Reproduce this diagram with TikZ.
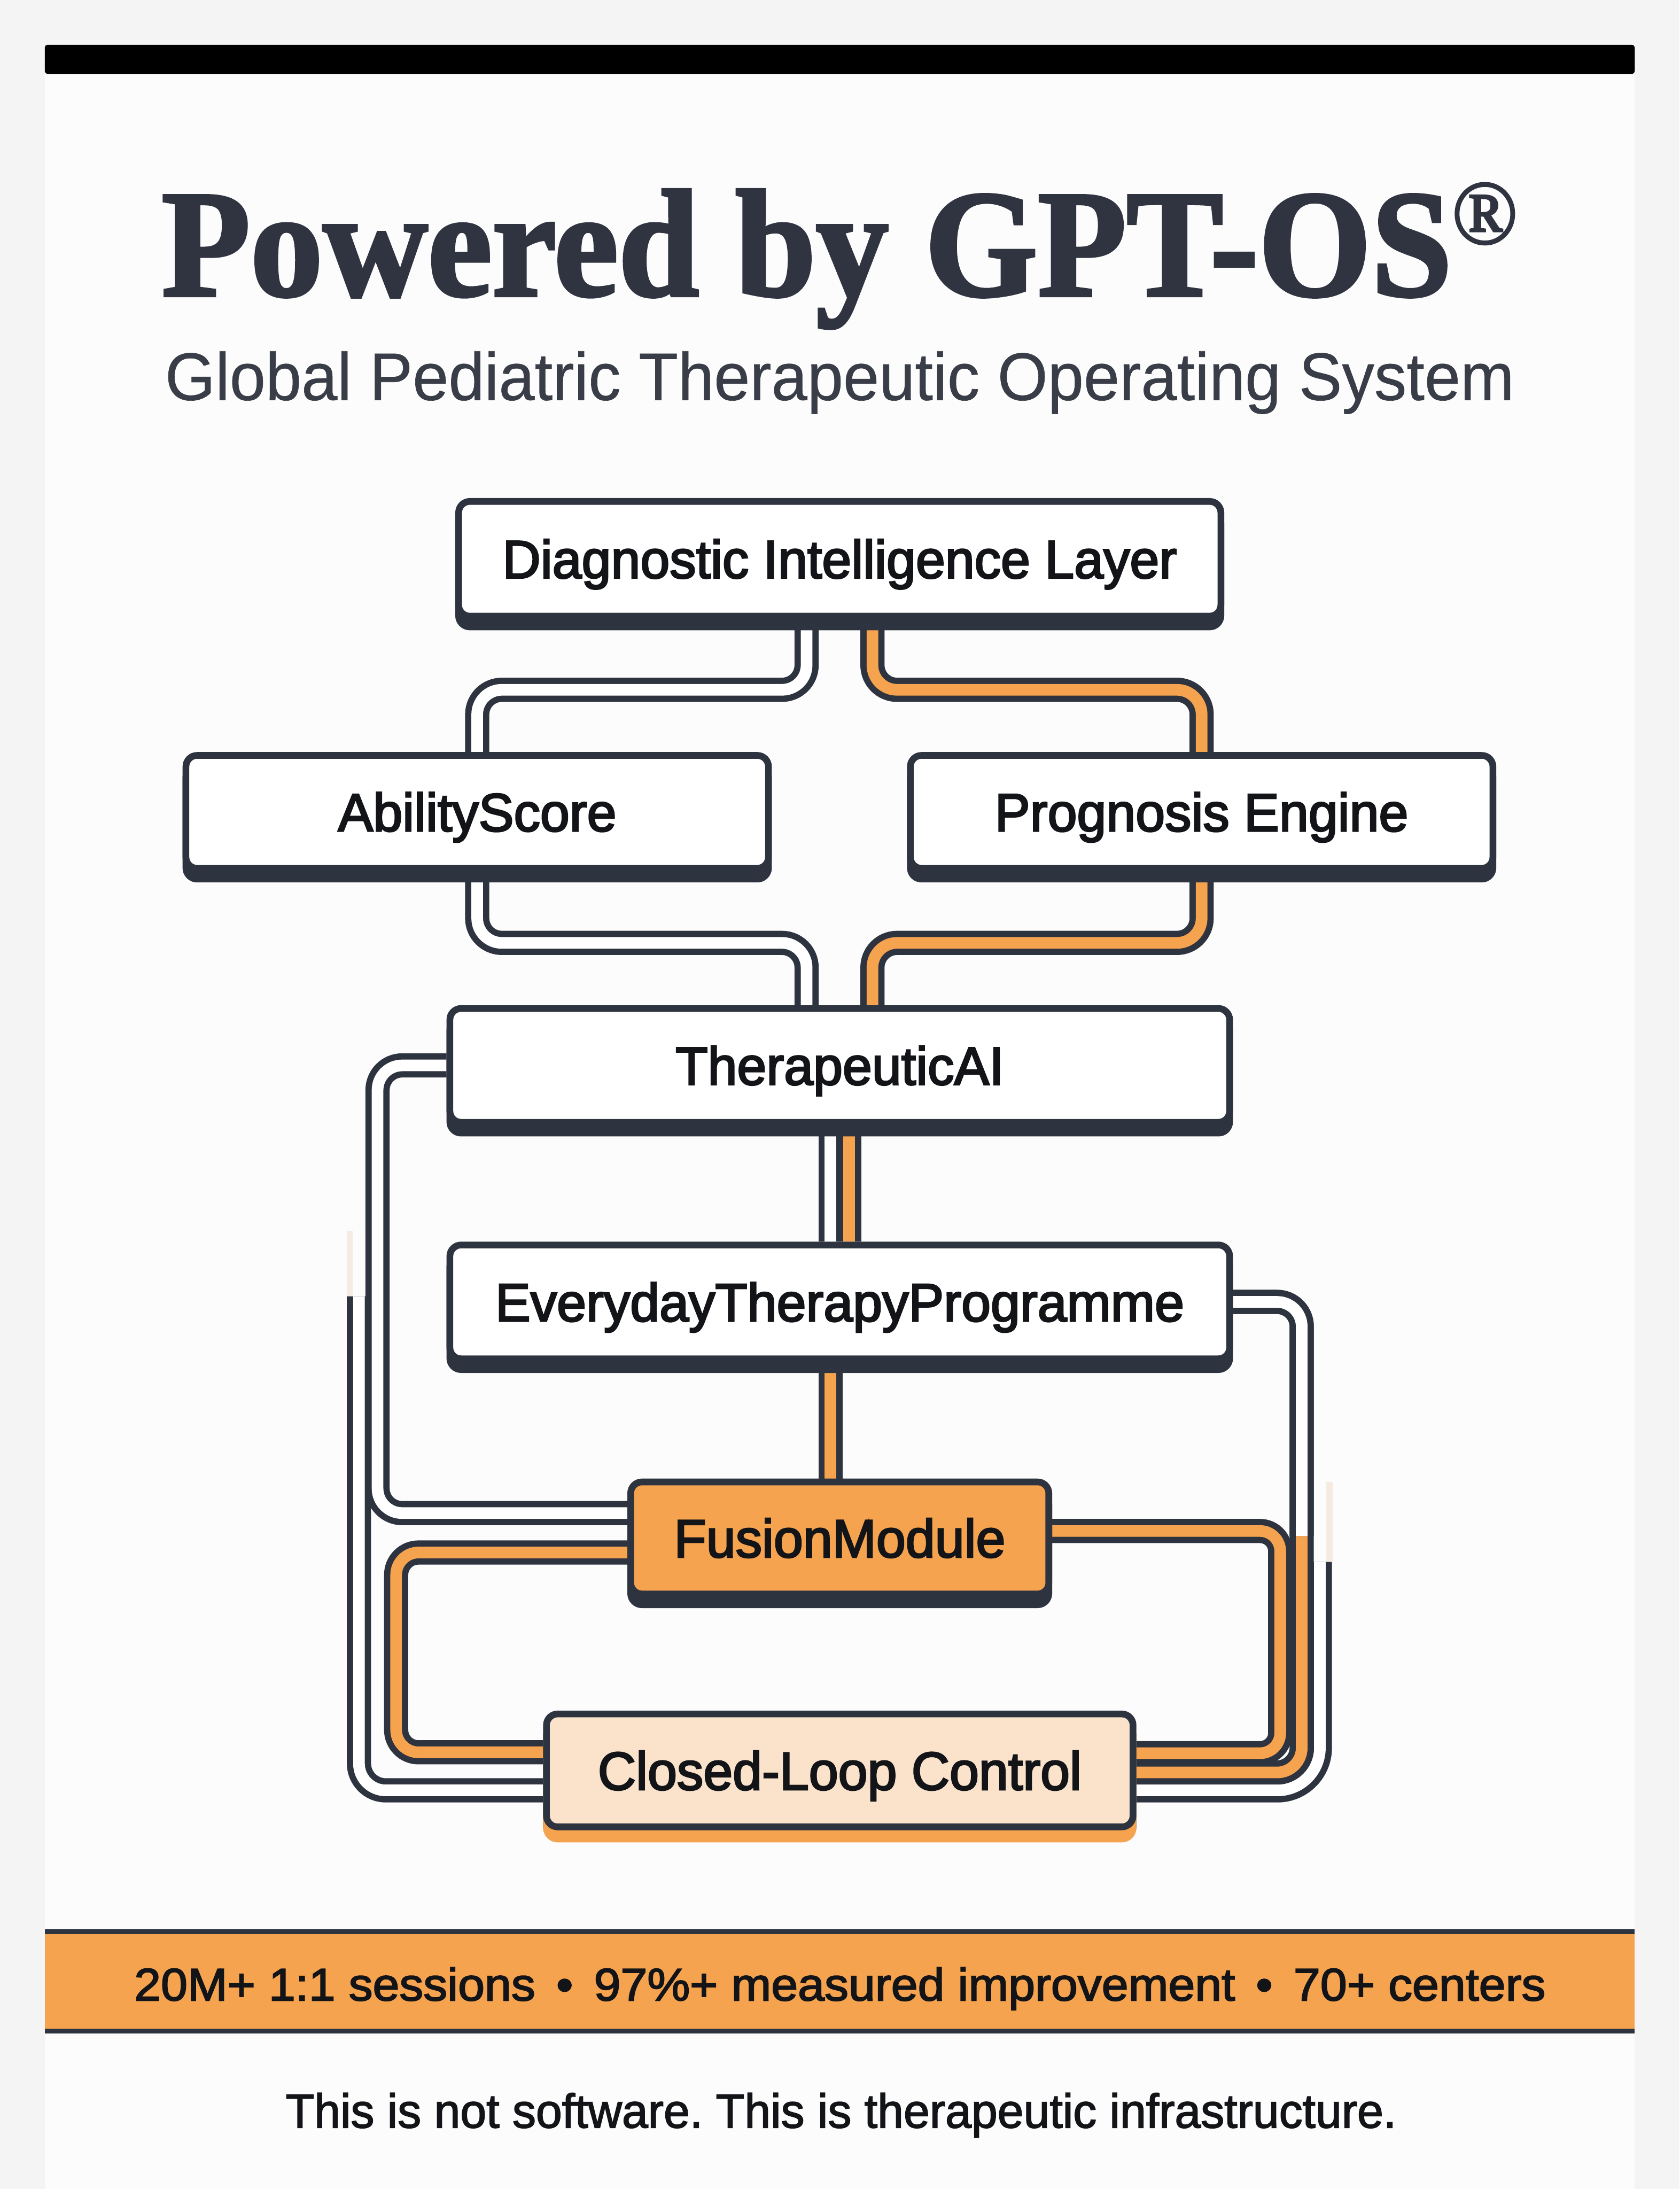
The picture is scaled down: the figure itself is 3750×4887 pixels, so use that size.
\documentclass[tikz,border=0pt]{standalone}
\usepackage{fontspec}
\setmainfont{Liberation Sans}
\newfontfamily\labfont[FakeBold=3,FakeStretch=0.985]{Liberation Sans}
\newfontfamily\titlefont[FakeStretch=0.95,FakeBold=2]{Liberation Serif}
\newfontfamily\subfont[FakeStretch=0.96,FakeBold=0.5]{Liberation Sans}
\newfontfamily\statfont[FakeBold=2.5,FakeStretch=1.05]{Liberation Sans}
\newfontfamily\footfont[FakeBold=2,FakeStretch=0.98]{Liberation Sans}
\usetikzlibrary{calc,shadows}
\definecolor{dark}{HTML}{2E3340}
\definecolor{ink}{HTML}{121418}
\definecolor{orng}{HTML}{F5A34F}
\definecolor{peach}{HTML}{FAE2CB}
\definecolor{pagebg}{HTML}{F4F4F4}
\definecolor{panel}{HTML}{FCFCFC}
\definecolor{titlec}{HTML}{2F3440}
\definecolor{subc}{HTML}{393D47}
\definecolor{stubc}{HTML}{F6EBE3}
\pgfdeclarelayer{back}
\pgfdeclarelayer{bg}
\pgfsetlayers{back,bg,main}
\frenchspacing
\begin{document}
\begin{tikzpicture}[x=0.01cm,y=-0.01cm,
  box/.style={draw=dark, line width=0.15cm, fill=white, rounded corners=0.25cm,
    inner sep=0pt, text height=0.86cm, text depth=0cm, text=ink,
    font=\labfont\fontsize{34pt}{40pt}\selectfont,
    drop shadow={shadow xshift=0cm, shadow yshift=-0.24cm, fill=dark, draw=dark, line width=0.15cm, opacity=1}},
  fusbox/.style={box, fill=orng},
  clbox/.style={box, fill=peach,
    drop shadow={shadow xshift=0cm, shadow yshift=-0.27cm, fill=orng, draw=orng, line width=0.15cm, opacity=1}},
  cable/.style={draw=dark, line width=0.14cm, double=white, double distance=0.26cm, rounded corners=0.55cm},
  ocable/.style={cable, double=orng},
  stubline/.style={draw=stubc, line width=0.14cm}
]
\useasboundingbox (0,0) rectangle (3750,4887);
\begin{pgfonlayer}{back}
  \fill[pagebg] (0,0) rectangle (3750,4887);
  \fill[panel] (100,100) rectangle (3650,4887);
  \fill[black, rounded corners=0.06cm] (100,100) rectangle (3650,165);
  \fill[orng] (100,4312) rectangle (3650,4534);
  \draw[dark, line width=0.11cm] (100,4312) -- (3650,4312);
  \draw[dark, line width=0.11cm] (100,4534) -- (3650,4534);
\end{pgfonlayer}

% titles
\node[anchor=base, inner sep=0pt, text=titlec] (title) at (1875,660)
  {\titlefont\bfseries\fontsize{97pt}{110pt}\selectfont Powered by GPT-OS\raisebox{33pt}{\fontsize{58pt}{64pt}\selectfont\mdseries ®}};
\node[anchor=base, inner sep=0pt, text=subc] (subtitle) at (1875,893)
  {\subfont\fontsize{42.7pt}{50pt}\selectfont Global Pediatric Therapeutic Operating System};

% boxes
\node[box, minimum width=17.01cm, minimum height=2.56cm] (diag) at (1875,1247.5) {Diagnostic Intelligence Layer};
\node[box, minimum width=13.00cm, minimum height=2.52cm] (abil) at (1065.5,1812.5) {AbilityScore};
\node[box, minimum width=13.00cm, minimum height=2.52cm] (prog) at (2683,1812.5) {Prognosis Engine};
\node[box, minimum width=17.40cm, minimum height=2.54cm] (ther) at (1875,2378.5) {TherapeuticAI};
\node[box, minimum width=17.40cm, minimum height=2.54cm] (ever) at (1875,2906.5) {EverydayTherapyProgramme};
\node[fusbox, minimum width=9.33cm, minimum height=2.50cm] (fus) at (1875,3433.5) {FusionModule};
\node[clbox, minimum width=13.09cm, minimum height=2.52cm] (clc) at (1875,3952.5) {Closed-Loop Control};

% free ends
\coordinate (dtop) at (801.5,2894);
\coordinate (gtop) at (2947,3487);
\coordinate (eswitch) at (2906.5,3429);
\coordinate (lstubtop) at (781,2748);
\coordinate (lstubbot) at (781,2894);
\coordinate (rstubtop) at (2968,3309);
\coordinate (rstubbot) at (2968,3487);

\begin{pgfonlayer}{bg}
  % top tree
  \draw[cable] ($(diag.south)+(-74,0)$) -- (1801,1540) -- (1065.5,1540) -- (abil.north);
  \draw[ocable] ($(diag.south)+(73,0)$) -- (1948,1540) -- (2683,1540) -- (prog.north);
  \draw[cable] (abil.south) -- (1065.5,2105) -- (1801,2105) -- ($(ther.north)+(-74,0)$);
  \draw[ocable] (prog.south) -- (2683,2105) -- (1948,2105) -- ($(ther.north)+(73,0)$);
  % spine
  \draw[cable] ($(ther.south)+(-20.5,0)$) -- ($(ever.north)+(-20.5,0)$);
  \draw[ocable] ($(ther.south)+(21,0)$) -- ($(ever.north)+(21,0)$);
  \draw[ocable] ($(ever.south)+(-20.5,0)$) -- ($(fus.north)+(-20.5,0)$);
  % left loop
  \draw[stubline] (lstubtop) -- (lstubbot);
  \draw[cable, rounded corners=0.6cm] (dtop) |- ($(clc.west)+(0,44.5)$);
  \draw[cable] (ther.west) -| (843,3378) -- ($(fus.west)+(0,-55.5)$);
  \draw[ocable, rounded corners=0.5cm] ($(fus.west)+(0,32.5)$) -| (884.5,3912) -- ($(clc.west)+(0,-40.5)$);
  % right loop
  \draw[stubline] (rstubtop) -- (rstubbot);
  \draw[cable, rounded corners=0.95cm] (gtop) |- ($(clc.east)+(0,44.5)$);
  \draw[ocable, rounded corners=0.45cm] ($(fus.east)+(0,-15.5)$) -| (2858.5,3914) -- ($(clc.east)+(0,-38.5)$);
  \draw[ocable] (ever.east) -| (2906.5,3957) -- ($(clc.east)+(0,4.5)$);
  \draw[cable] (ever.east) -| (eswitch);
\end{pgfonlayer}

% bottom texts
\node[anchor=base, inner sep=0pt, text=ink] (stats) at (1875.5,4466)
  {\statfont\fontsize{29pt}{34pt}\selectfont 20M+ 1:1 sessions \,•\, 97\%+ measured improvement \,•\, 70+ centers};
\node[anchor=base, inner sep=0pt, text=ink] (footer) at (1878,4750)
  {\footfont\fontsize{30.4pt}{36pt}\selectfont This is not software. This is therapeutic infrastructure.};
\end{tikzpicture}
\end{document}
